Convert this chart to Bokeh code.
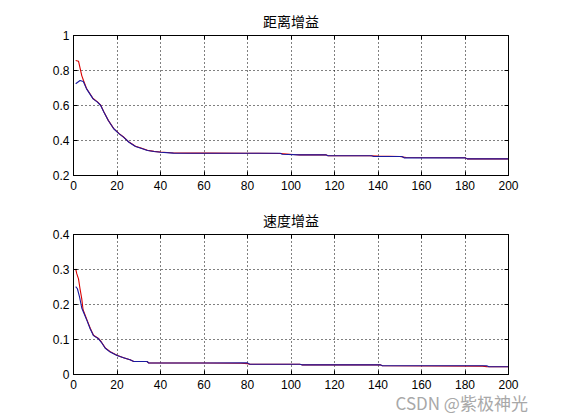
from bokeh.plotting import figure
from bokeh.layouts import column
from bokeh.models import Range1d, FixedTicker, LinearAxis, CustomJSTickFormatter, Title
from bokeh.embed import file_html
from bokeh.resources import INLINE

# ---- data ----
x_ticks = [0, 20, 40, 60, 80, 100, 120, 140, 160, 180, 200]
top_title = "距离增益"
bottom_title = "速度增益"
top_yticks = [0.2, 0.4, 0.6, 0.8, 1.0]
bottom_yticks = [0.0, 0.1, 0.2, 0.3, 0.4]

top_blue_x = [1, 3, 4.5, 6, 9, 11, 12.5, 14, 16, 18.5, 21, 23, 25.5, 28.5, 31, 34, 37, 40, 46,
              60, 80, 95, 96, 104, 116, 117, 137, 138, 151, 152, 180, 181, 200]
top_blue_y = [0.724, 0.743, 0.737, 0.695, 0.638, 0.619, 0.600, 0.562, 0.514, 0.467, 0.438, 0.419,
              0.390, 0.366, 0.356, 0.343, 0.337, 0.333, 0.328,
              0.327, 0.327, 0.327, 0.321, 0.318, 0.318, 0.313, 0.313, 0.309, 0.309, 0.301, 0.301, 0.295, 0.295]

top_red_x = [1, 2.3, 3.8, 4.6, 6, 9, 11, 12.5, 14, 16, 18.5, 21, 23, 25.5, 28.5, 31, 34, 37, 40, 46,
             54, 61, 79, 85, 95, 101, 104, 116, 117, 136, 140, 150, 153, 180, 181, 200]
top_red_y = [0.857, 0.853, 0.771, 0.743, 0.697, 0.640, 0.621, 0.602, 0.563, 0.515, 0.468, 0.439,
             0.420, 0.391, 0.367, 0.357, 0.344, 0.338, 0.334, 0.329,
             0.328, 0.328, 0.327, 0.327, 0.326, 0.320, 0.318, 0.318, 0.313, 0.313, 0.311, 0.309, 0.303, 0.301, 0.295, 0.295]

bot_blue_x = [1, 1.8, 2.8, 3.8, 4.6, 6.2, 7.7, 9.2, 11.5, 12.8, 14.6, 16.9, 20, 23, 26, 27.7,
              33.8, 34.6, 60, 80, 81, 104, 105, 141, 142, 190, 191, 200]
bot_blue_y = [0.251, 0.245, 0.221, 0.190, 0.178, 0.154, 0.130, 0.111, 0.102, 0.092, 0.075, 0.064,
              0.054, 0.048, 0.042, 0.037, 0.037, 0.033, 0.033, 0.0333, 0.0295, 0.0295, 0.0276,
              0.0276, 0.0248, 0.0248, 0.0220, 0.0220]

bot_red_x = [1, 1.5, 2.3, 3, 3.8, 4.4, 6.2, 7.7, 9.2, 11.5, 12.8, 14.6, 16.9, 20, 23, 26, 27.7,
             33.8, 34.6, 60, 77, 80, 81, 104, 105, 141, 142, 188, 190, 191, 200]
bot_red_y = [0.302, 0.288, 0.273, 0.245, 0.216, 0.185, 0.156, 0.132, 0.112, 0.103, 0.093, 0.076,
             0.065, 0.055, 0.048, 0.042, 0.037, 0.037, 0.033, 0.033, 0.0320, 0.0310, 0.0295,
             0.0295, 0.0276, 0.0276, 0.0248, 0.0240, 0.0225, 0.0220, 0.0220]

watermark = "CSDN @紫极神光"

TICK_FONT = "Liberation Sans"


def make_fig(title, ymin, ymax, yticks, height, border_top, border_bottom, bx, by, rx, ry):
    p = figure(width=553, height=height, x_range=Range1d(0, 200), y_range=Range1d(ymin, ymax),
               output_backend="svg", toolbar_location=None,
               min_border_left=73, min_border_right=45, min_border_top=border_top,
               min_border_bottom=border_bottom)
    p.title.text = title
    p.title.align = "center"
    p.title.text_font = "Noto Sans CJK SC"
    p.title.text_font_size = "14px"
    p.title.text_font_style = "normal"
    p.title.text_color = "black"
    p.title.standoff = 9
    p.background_fill_color = "white"
    p.border_fill_color = "white"
    p.outline_line_color = "black"
    p.outline_line_width = 1
    p.outline_line_alpha = 1

    fmt = CustomJSTickFormatter(code="return String(Math.round(tick*10)/10)")
    p.xaxis.ticker = FixedTicker(ticks=x_ticks)
    p.yaxis.ticker = FixedTicker(ticks=yticks)
    p.yaxis.formatter = fmt
    for ax in (p.xaxis[0], p.yaxis[0]):
        ax.major_tick_in = 4
        ax.major_tick_out = 0
        ax.minor_tick_line_color = None
        ax.axis_line_color = "black"
        ax.major_tick_line_color = "black"
        ax.major_label_text_font = TICK_FONT
        ax.major_label_text_font_size = "12px"
        ax.major_label_text_color = "black"
    p.xaxis.major_label_standoff = 5
    p.yaxis.major_label_standoff = 4

    for loc, tick in (("right", yticks), ("above", x_ticks)):
        ax = LinearAxis(ticker=FixedTicker(ticks=tick), major_tick_in=4, major_tick_out=0,
                        minor_tick_line_color=None, axis_line_color="black",
                        major_label_text_font_size="0px", major_label_standoff=0)
        p.add_layout(ax, loc)

    for g, t in ((p.xgrid, x_ticks), (p.ygrid, yticks)):
        g.ticker = FixedTicker(ticks=t)
        g.grid_line_color = "black"
        g.grid_line_alpha = 1
        g.grid_line_width = 1
        g.grid_line_dash = "1 3"

    p.line(rx, ry, line_color="#d80000", line_width=1.1)
    p.line(bx, by, line_color="#1a1aa0", line_width=1.1)
    return p


p1 = make_fig(top_title, 0.2, 1.0, top_yticks, 203, 35, 28, top_blue_x, top_blue_y, top_red_x, top_red_y)
p2 = make_fig(bottom_title, 0.0, 0.4, bottom_yticks, 214, 31, 43, bot_blue_x, bot_blue_y, bot_red_x, bot_red_y)

p2.add_layout(Title(text=watermark, align="left", offset=322, standoff=-7,
                    text_font_size="17px", text_font="Noto Sans CJK SC",
                    text_font_style="normal", text_color="#a8a8a8"), "below")

layout = column(p1, p2, spacing=0)
open("out.html", "w").write(file_html(layout, INLINE))
